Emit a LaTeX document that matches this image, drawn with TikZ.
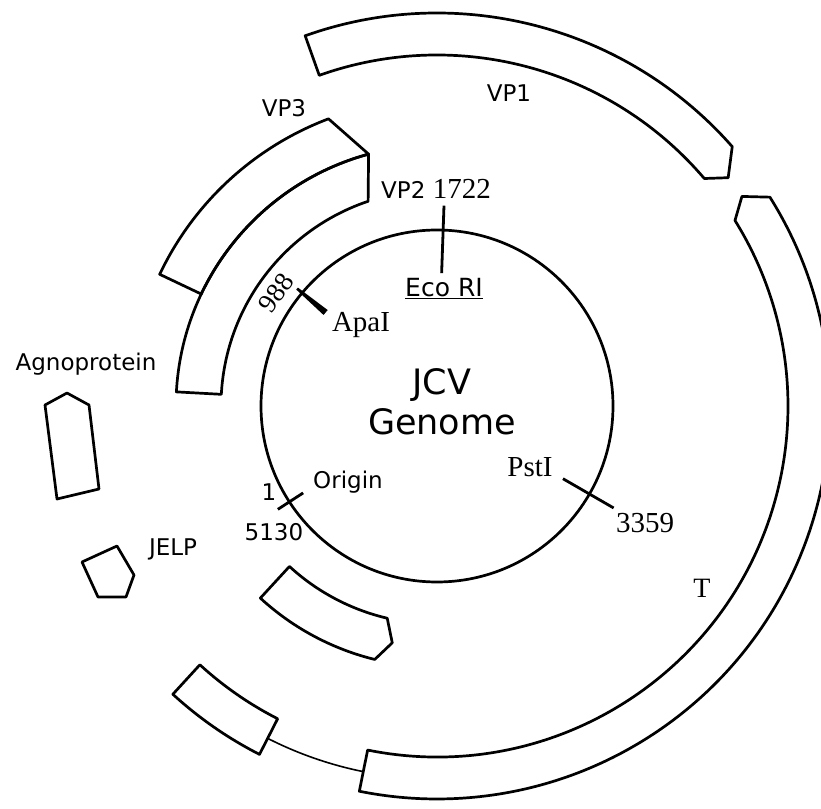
\documentclass[tikz,border=0pt]{standalone}
\usepackage{fontspec}
\usetikzlibrary{positioning,calc}
\newfontfamily\letterfont{DejaVu Sans}
\newfontfamily\serffont{Liberation Serif}

\begin{document}
\begin{tikzpicture}[
  x=1pt, y=1pt,
  every node/.style={align=center, inner sep=1pt},
  gene/.style={draw, line width=2.7pt, line join=round},
  link/.style={draw, line width=1.6pt},
  cut/.style={line width=2.8pt},
  lab/.style={font=\letterfont\fontsize{23}{27}\selectfont},
  site/.style={font=\serffont\fontsize{29}{33}\selectfont}
]
\useasboundingbox (0,0) rectangle (821,808);
\coordinate (c) at (437,402);

% Genome circle
\node[circle, draw, line width=2.7pt, minimum size=352pt, inner sep=0pt] (genome) at (c) {};
\node[font=\letterfont\fontsize{35}{40}\selectfont] (jcv) at (442,406) {JCV\\Genome};

% Late region
\begin{scope}[shift={(c)}]
\draw[gene] (109.6:393) arc[start angle=109.6, end angle=41.3, radius=393]
  -- (38.1:370) -- (40.4:351) arc[start angle=40.4, end angle=109.6, radius=351] -- cycle;
\draw[gene] (110.7:307) arc[start angle=110.7, end angle=154.6, radius=307]
  -- (154.6:261) arc[start angle=154.6, end angle=105.2, radius=261] -- cycle;
\draw[gene] (105.2:261) arc[start angle=105.2, end angle=176.9, radius=261]
  -- (176.9:216) arc[start angle=176.9, end angle=108.6, radius=216] -- cycle;

% Early region
\draw[gene] (34.5:370) -- (32.1:393) arc[start angle=32.1, end angle=-101.4, radius=393]
  -- (-101.4:351) arc[start angle=-101.4, end angle=31.9, radius=351] -- cycle;
\draw[gene] (227.4:261) arc[start angle=227.4, end angle=256.2, radius=261]
  -- (259.3:241) -- (256.8:218) arc[start angle=256.8, end angle=227.4, radius=218] -- cycle;
\draw[gene] (227.5:391) arc[start angle=227.5, end angle=243, radius=391]
  -- (243:351) arc[start angle=243, end angle=227.5, radius=351] -- cycle;
\draw[link] (243:373) arc[start angle=243, end angle=258.6, radius=373];
\end{scope}

% Agnoprotein and JELP
\draw[gene] (45,403) -- (67,415) -- (89,403) -- (99,319) -- (57,309) -- cycle;
\draw[gene] (82,246) -- (117,262) -- (134,233) -- (126,211) -- (98,211) -- cycle;

% Cut sites
\draw[cut] ($(c)!1.13!(genome.88)$) -- ($(c)!0.75!(genome.88)$);
\draw[cut] ($(c)!1.07!(genome.213)$) -- ($(c)!0.90!(genome.213)$);
\draw[cut] ($(c)!0.82!(genome.-30)$) -- ($(c)!1.15!(genome.-30)$);
\coordinate (apa1) at ($(c)!1.03!(genome.140)$);
\coordinate (apa2) at ($(c)!0.82!(genome.140)$);
\fill ($(apa1)!1.3pt!90:(apa2)$) -- ($(apa2)!3.2pt!-90:(apa1)$)
  -- ($(apa2)!3.2pt!90:(apa1)$) -- ($(apa1)!1.3pt!-90:(apa2)$) -- cycle;

% Labels
\node[lab] (vpone) at (509,715) {VP1};
\node[lab] (vpthree) at (284,700) {VP3};
\node[lab] (vptwo) at (436,619) {VP2 {\serffont\fontsize{29}{33}\selectfont 1722}};
\node[lab, font=\letterfont\fontsize{25}{29}\selectfont] (ecori) at (444,519) {\underline{Eco RI}};
\node[site, font=\serffont\fontsize{27}{31}\selectfont, rotate=55] (pos988) at (276,515) {988};
\node[site] (apai) at (361,483) {ApaI};
\node[lab] (origin) at (348,326) {Origin};
\node[lab] (one) at (269,316) {1};
\node[lab] (pos5130) at (274,276) {5130};
\node[lab] (jelp) at (173,259) {JELP};
\node[lab] (agno) at (86,444) {Agnoprotein};
\node[site] (pst) at (530,341) {PstI};
\node[site] (pos3359) at (645,285) {3359};
\node[site, font=\serffont\fontsize{28}{32}\selectfont] (tag) at (702,220) {T};
\end{tikzpicture}
\end{document}
